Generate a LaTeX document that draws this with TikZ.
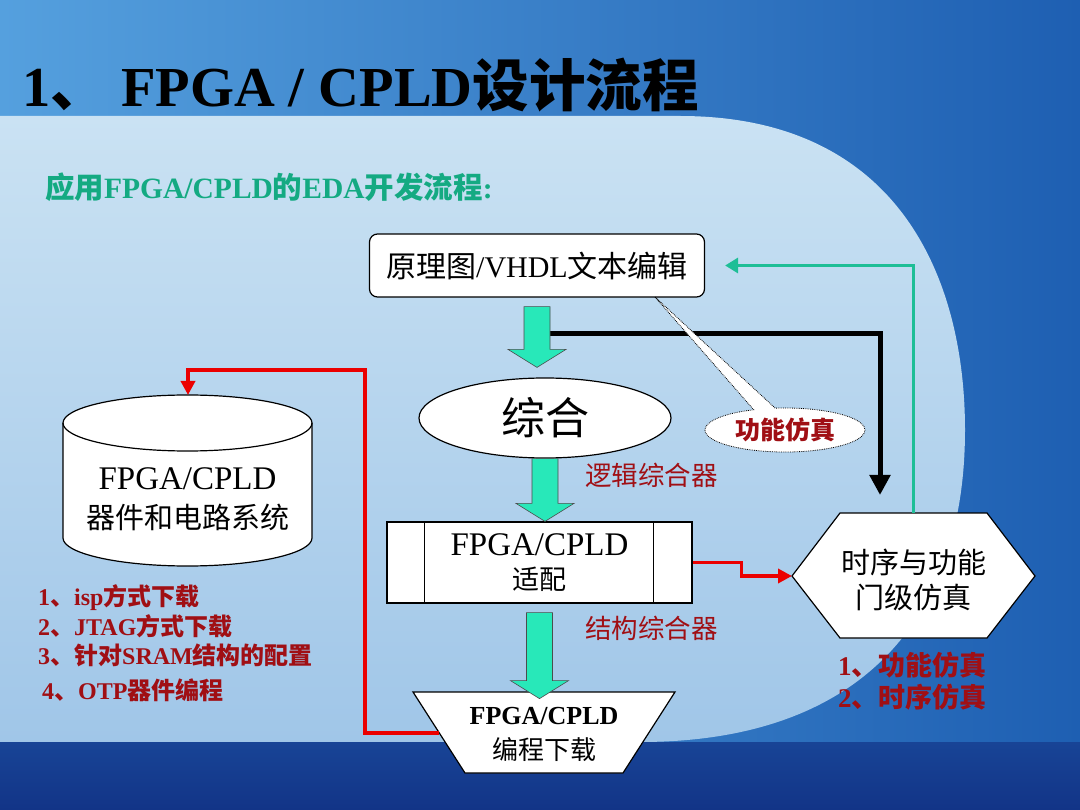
\documentclass[tikz,border=0pt]{standalone}
\usepackage{fontspec}
\setmainfont{Liberation Serif}
\newfontfamily\cjk{Noto Sans CJK SC}
\usetikzlibrary{arrows.meta,shapes.geometric,shapes.callouts,calc}

\definecolor{flowaqua}{RGB}{40,232,185}
\definecolor{notered}{RGB}{160,15,20}
\definecolor{linkred}{RGB}{235,0,0}
\definecolor{backteal}{RGB}{30,190,150}
\definecolor{subgreen}{RGB}{20,170,130}
\definecolor{skyleft}{RGB}{85,160,222}
\definecolor{skyright}{RGB}{30,95,178}
\definecolor{lenslight}{RGB}{202,226,243}
\definecolor{lensdeep}{RGB}{160,198,232}
\definecolor{seanavy}{RGB}{24,68,150}
\definecolor{seadeep}{RGB}{18,52,135}

\newcommand{\cn}[1]{{\cjk #1}}
\newcommand{\fs}[2]{\fontsize{#1}{#2}\selectfont}
% block arrow between two nodes: from, to, gap at top, gap at tip
\newcommand{\flowarrow}[4]{%
  \filldraw[flowfill] let \p1=(#1.south), \p2=(#2.north) in
    (\x1-13pt,\y1-#3) -- (\x1+13pt,\y1-#3) -- (\x1+13pt,\y2+#4+18pt)
    -- (\x1+29pt,\y2+#4+18pt) -- (\x1,\y2+#4) -- (\x1-29pt,\y2+#4+18pt)
    -- (\x1-13pt,\y2+#4+18pt) -- cycle;}

\tikzset{
  box/.style={draw=black, line width=1.2pt, fill=white, align=center, inner sep=0pt},
  flowfill/.style={fill=flowaqua, draw=black!70, line width=0.6pt},
  note/.style={anchor=west, inner sep=0pt, text=notered, font=\fs{24}{26}\bfseries},
  redlink/.style={linkred, line width=3.5pt, -{Triangle[width=14pt,length=14pt]}},
}

\begin{document}
\begin{tikzpicture}[x=1pt,y=-1pt]
    \useasboundingbox (0,0) rectangle (1080,810);

    % Slide background
    \shade[left color=skyleft, right color=skyright] (0,0) rectangle (1080,810);
    \shade[top color=lenslight, bottom color=lensdeep]
      (-5,116) -- (680,116) .. controls (900,116) and (965,280) .. (965,430)
      .. controls (965,620) and (860,742) .. (640,742) -- (-5,742) -- cycle;
    \shade[top color=seanavy, bottom color=seadeep] (0,742) rectangle (1080,810);

    % Title and subtitle
    \node[anchor=west, inner sep=0pt, font=\fs{56.5}{60}\bfseries] (title) at (22,85)
      {1\cn{、} FPGA / CPLD\cn{设计流程}};
    \node[anchor=west, inner sep=0pt, text=subgreen, font=\fs{29.5}{32}\bfseries] (subtitle) at (45,187)
      {\cn{应用}FPGA/CPLD\cn{的}EDA\cn{开发流程}:};

    % Main flow
    \node[box, rounded corners=8pt, minimum width=335pt, minimum height=63pt, font=\fs{30}{34}]
      (edit) at (537,265.5) {\cn{原理图}/VHDL\cn{文本编辑}};
    \node[box, ellipse, minimum width=252pt, minimum height=80pt, font=\fs{44}{48}]
      (synth) at (545,418) {\cn{综合}};
    \node[box, minimum width=305pt, minimum height=81pt, font=\fs{27}{34}]
      (fit) at (539.5,562.5) {{\fs{33}{36}FPGA/CPLD}\\\cn{适配}};
    \draw[line width=1.2pt] ([xshift=38pt]fit.north west) -- ([xshift=38pt]fit.south west);
    \draw[line width=1.2pt] ([xshift=-39pt]fit.north east) -- ([xshift=-39pt]fit.south east);

    % Programming (inverted trapezoid)
    \draw[box] (413,692) -- (675,692) -- (623,773) -- (465,773) -- cycle;
    \node[align=center, inner sep=0pt, font=\fs{26}{35}] (prog) at (544,734)
      {\textbf{FPGA/CPLD}\\\cn{编程下载}};
    \coordinate (progleft) at (439,733);

    % Device (cylinder)
    \draw[box] (63,423) -- (63,538) arc[start angle=180, end angle=360, x radius=124.5pt, y radius=28pt]
      -- (312,423) arc[start angle=0, end angle=180, x radius=124.5pt, y radius=28pt] -- cycle;
    \draw[line width=1.2pt] (63,423) arc[start angle=180, end angle=360, x radius=124.5pt, y radius=28pt];
    \node[align=center, inner sep=0pt, font=\fs{29}{39}] (board) at (187.5,499)
      {{\fs{33}{36}FPGA/CPLD}\\\cn{器件和电路系统}};
    \coordinate (boardtop) at (188,395);

    % Simulation (hexagon)
    \draw[box] (792,576) -- (840,513) -- (987,513) -- (1035,576) -- (987,638) -- (840,638) -- cycle;
    \node[align=center, inner sep=0pt, font=\fs{29}{35}] (sim) at (913.5,580)
      {\cn{时序与功能}\\\cn{门级仿真}};
    \coordinate (simtop) at (913.5,513);
    \coordinate (simleft) at (792,576);
    \coordinate (simin) at (880,495);

    % Feedback connectors
    \coordinate (tap) at ([yshift=-36pt]edit.south);
    \draw[black, line width=5pt, -{Triangle[width=20pt,length=20pt]}] (tap) -| (simin);
    \draw[backteal, line width=3.5pt, -{Triangle[width=15pt,length=13pt]}] (simtop) |- ([xshift=20pt]edit.east);
    \draw[redlink] (fit.east) -- ++(49,0) |- (simleft);
    \draw[redlink] (progleft) -- (365,733) |- (188,370) -- (boardtop);

    % Block arrows
    \flowarrow{edit}{synth}{9pt}{10pt}
    \flowarrow{synth}{fit}{0pt}{0pt}
    \flowarrow{fit}{prog}{9pt}{8pt}

    % Callout
    \node[ellipse callout, callout absolute pointer={(655,297)}, callout pointer arc=16,
      draw=black, densely dotted, line width=0.8pt, fill=white, minimum width=160pt, minimum height=44pt,
      inner sep=0pt, text=notered, font=\fs{25}{28}\bfseries] (funcsim) at (785,430) {\cn{功能仿真}};

    % Labels
    \node[note, font=\fs{26.5}{28}] (logic) at (585,475) {\cn{逻辑综合器}};
    \node[note, font=\fs{26.5}{28}] (struct) at (585,628) {\cn{结构综合器}};
    \node[note] (list1) at (38,598) {1\cn{、}isp\cn{方式下载}};
    \node[note] (list2) at (38,626) {2\cn{、}JTAG\cn{方式下载}};
    \node[note] (list3) at (38,655) {3\cn{、针对}SRAM\cn{结构的配置}};
    \node[note] (list4) at (42,690) {4\cn{、}OTP\cn{器件编程}};
    \node[note, font=\fs{27}{28}\bfseries] (kind1) at (838,665) {1\cn{、功能仿真}};
    \node[note, font=\fs{27}{28}\bfseries] (kind2) at (838,697) {2\cn{、时序仿真}};
\end{tikzpicture}
\end{document}
